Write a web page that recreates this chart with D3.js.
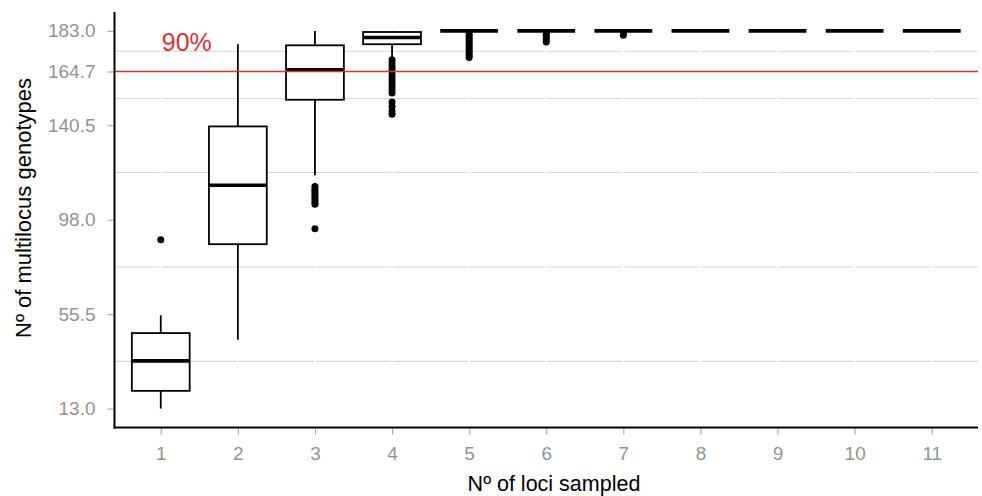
<!DOCTYPE html>
<html>
<head>
<meta charset="utf-8">
<script src="https://cdn.jsdelivr.net/npm/d3@7"></script>
<style>
  html, body { margin: 0; padding: 0; background: #fff; }
  svg { display: block; font-family: "Liberation Sans", Arial, Helvetica, sans-serif; }
</style>
</head>
<body>
<svg id="chart" width="982" height="496"></svg>
<script>
// ---- data ----
const categories = ["1", "2", "3", "4", "5", "6", "7", "8", "9", "10", "11"];
const lowerWhisker = [13, 44, 118, 171, 183, 183, 183, 183, 183, 183, 183];
const q1Values     = [21, 87, 152, 177, 183, 183, 183, 183, 183, 183, 183];
const medianValues = [34.5, 113.5, 165.5, 180, 183, 183, 183, 183, 183, 183, 183];
const q3Values     = [47, 140, 176.5, 182.5, 183, 183, 183, 183, 183, 183, 183];
const upperWhisker = [55, 177, 183, 183, 183, 183, 183, 183, 183, 183, 183];
const outlierValues = [
  [89],
  [],
  [113, 112, 111, 110, 109, 108, 107, 106, 105, 94],
  [170, 168.5, 167, 165.5, 164, 162.5, 161, 159.5, 158, 156.5, 155, 151, 149, 147, 145.5],
  [182, 181, 180, 179, 178, 177, 176, 175, 174, 173, 172, 171],
  [182, 181, 180, 179, 178],
  [182, 181],
  [], [], [], []
];
const yTickValues = [13.0, 55.5, 98.0, 140.5, 164.7, 183.0];
const thresholdValue = 164.7;
const thresholdLabel = "90%";
const xTitle = "Nº of loci sampled";
const yTitle = "Nº of multilocus genotypes";

// ---- layout ----
const svg = d3.select("#chart");
const panel = { left: 114.5, right: 978, top: 12, bottom: 427.5 };

const x = d3.scalePoint().domain(categories).range([panel.left, panel.right]).padding(0.6);
const y = d3.scaleLinear().domain([4.5, 191.5]).range([panel.bottom, panel.top]);
const boxW = x.step() * 0.75;

const red = "#e2322b";

// minor grid lines (midpoints between breaks)
const sortedTicks = yTickValues.slice().sort((a, b) => a - b);
const minor = d3.pairs(sortedTicks).map(([a, b]) => (a + b) / 2);
svg.append("g").selectAll("line").data(minor).join("line")
  .attr("x1", panel.left).attr("x2", panel.right)
  .attr("y1", d => y(d)).attr("y2", d => y(d))
  .attr("stroke", "#d6d6d6").attr("stroke-width", 1.1);

// white vertical major lines at categories
svg.append("g").selectAll("line").data(categories).join("line")
  .attr("x1", d => x(d)).attr("x2", d => x(d))
  .attr("y1", panel.top).attr("y2", panel.bottom)
  .attr("stroke", "#ffffff").attr("stroke-width", 2);

// boxplots
const stats = categories.map((c, i) => ({
  c, lo: lowerWhisker[i], q1: q1Values[i], med: medianValues[i], q3: q3Values[i], hi: upperWhisker[i], out: outlierValues[i]
}));
const gBox = svg.append("g");
stats.forEach(s => {
  const cx = x(s.c);
  const g = gBox.append("g");
  g.append("line").attr("x1", cx).attr("x2", cx).attr("y1", y(s.hi)).attr("y2", y(s.q3))
    .attr("stroke", "#000").attr("stroke-width", 1.8);
  g.append("line").attr("x1", cx).attr("x2", cx).attr("y1", y(s.q1)).attr("y2", y(s.lo))
    .attr("stroke", "#000").attr("stroke-width", 1.8);
  g.append("rect").attr("x", cx - boxW / 2).attr("width", boxW)
    .attr("y", y(s.q3)).attr("height", Math.max(0, y(s.q1) - y(s.q3)))
    .attr("fill", "#fff").attr("stroke", "#000").attr("stroke-width", 1.8);
  g.append("line").attr("x1", cx - boxW / 2).attr("x2", cx + boxW / 2)
    .attr("y1", y(s.med)).attr("y2", y(s.med))
    .attr("stroke", "#000").attr("stroke-width", 3.6);
  g.selectAll("circle").data(s.out).join("circle")
    .attr("cx", cx).attr("cy", d => y(d)).attr("r", 3.5).attr("fill", "#000");
});

// threshold line + label
svg.append("line")
  .attr("x1", panel.left).attr("x2", panel.right)
  .attr("y1", y(thresholdValue)).attr("y2", y(thresholdValue))
  .attr("stroke", red).attr("stroke-width", 1.5);
svg.append("text")
  .attr("x", x(categories[0]) + 1).attr("y", y(thresholdValue) - 21)
  .attr("fill", red).attr("font-size", 25).text(thresholdLabel);

// axes
const yAxis = d3.axisLeft(y).tickValues(yTickValues).tickFormat(d3.format(".1f")).tickSize(7).tickPadding(12);
const gy = svg.append("g").attr("transform", `translate(${panel.left},0)`).call(yAxis);
gy.select(".domain").remove();
gy.selectAll(".tick line").attr("stroke", "#a6a6a6").attr("stroke-width", 1.1);
gy.selectAll(".tick text").attr("fill", "#939393").attr("font-size", 19)
  .attr("font-family", "'Liberation Sans', Arial, sans-serif");

const xAxis = d3.axisBottom(x).tickSize(7).tickPadding(12);
const gx = svg.append("g").attr("transform", `translate(0,${panel.bottom})`).call(xAxis);
gx.select(".domain").remove();
gx.selectAll(".tick line").attr("stroke", "#a6a6a6").attr("stroke-width", 1.1);
gx.selectAll(".tick text").attr("fill", "#939393").attr("font-size", 19)
  .attr("font-family", "'Liberation Sans', Arial, sans-serif");

// axis lines
svg.append("line").attr("x1", panel.left).attr("x2", panel.left)
  .attr("y1", panel.top).attr("y2", panel.bottom + 1)
  .attr("stroke", "#000").attr("stroke-width", 2);
svg.append("line").attr("x1", panel.left - 1).attr("x2", panel.right)
  .attr("y1", panel.bottom).attr("y2", panel.bottom)
  .attr("stroke", "#000").attr("stroke-width", 2);

// titles
svg.append("text").attr("x", 554).attr("y", 491).attr("text-anchor", "middle")
  .attr("font-size", 21.5).attr("fill", "#000").text(xTitle);
svg.append("text").attr("transform", `translate(31,208) rotate(-90)`).attr("text-anchor", "middle")
  .attr("font-size", 22).attr("fill", "#000").text(yTitle);
</script>
</body>
</html>
